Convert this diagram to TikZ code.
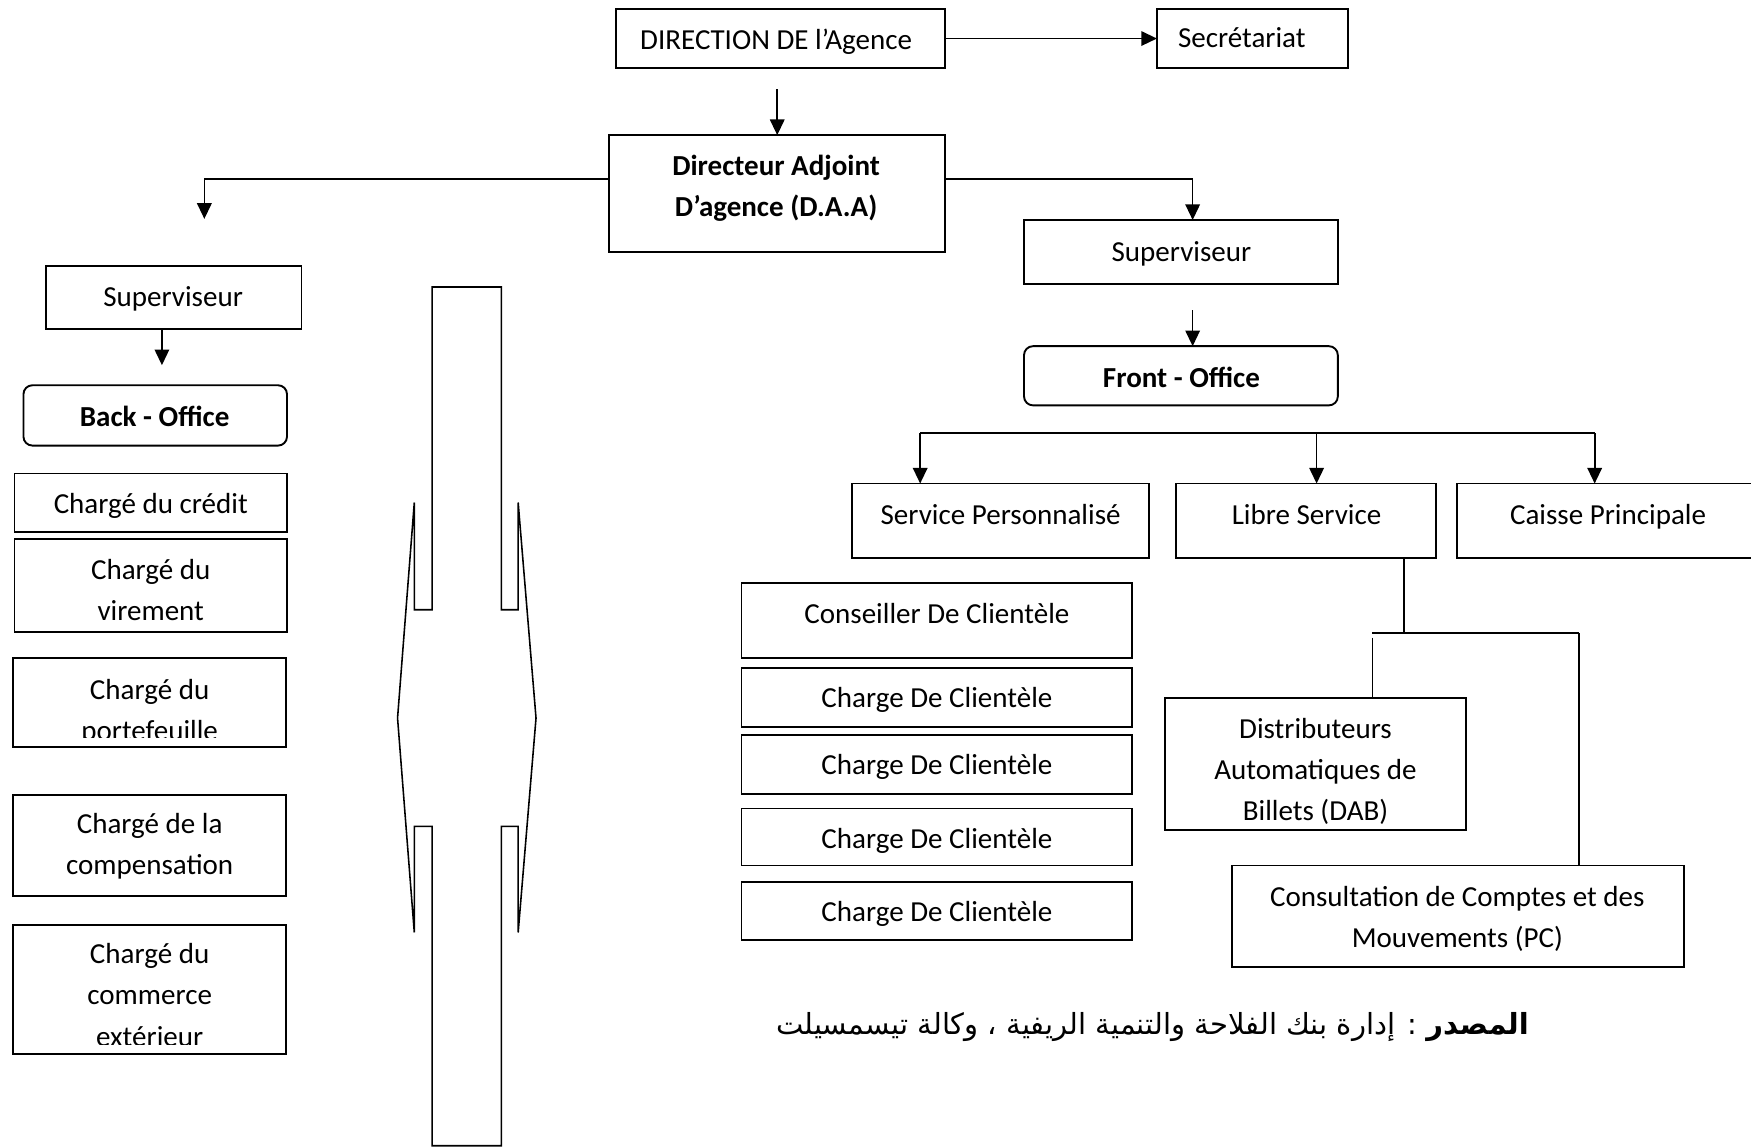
\documentclass[tikz,border=0pt]{standalone}
\usepackage{fontspec}
\usepackage{graphicx}
\setmainfont{Carlito}
\newfontfamily\arabicfont[Script=Arabic]{DejaVu Sans}
\TeXXeTstate=1
\usetikzlibrary{arrows.meta}
\newcommand\ttab[1]{\begin{tabular}{@{}c@{}}#1\end{tabular}}
\newcommand\bx[6][]{\node[box,#1,minimum width={(#5-#3)*1pt},minimum height={(#6-#4)*1pt}] (#2) at ({(#3+#5)/2},{(#4+#6)/2}) {};}
\tikzset{
 box/.style={draw, line width=1.7pt, rectangle, inner sep=0pt, outer sep=0pt},
 rbox/.style={rounded corners=8pt},
 txt/.style={inner sep=0pt, yshift=-1.5pt, font=\fontsize{26}{37}\selectfont},
 btxt/.style={inner sep=0pt, yshift=-1.5pt, font=\fontsize{26}{37}\selectfont\bfseries},
 conn/.style={line width=1.5pt},
 arr/.style={conn, -{Triangle[length=14pt,width=13pt]}},
 dbl/.style={line width=1.4pt, line join=miter}
}
\begin{document}
\begin{tikzpicture}[x=1pt,y=-1pt]
\useasboundingbox (0,0) rectangle (1568,1028);
\clip (0,0) rectangle (1568,1028);
% ---- boxes ----
\bx{dir}{552}{8}{846}{61}
\bx{sec}{1036}{8}{1207}{61}
\bx{daa}{545}{121}{846}{226}
\bx{supR}{917}{197}{1198}{254}
\bx[rbox]{front}{917}{310}{1198}{363}
\bx{sp}{763}{433}{1029}{500}
\bx{ls}{1053}{433}{1286}{500}
\bx{cp}{1305}{433}{1590}{500}
\bx{cons}{664}{522}{1014}{589}
\bx{ch1}{664}{598}{1014}{651}
\bx{ch2}{664}{658}{1014}{711}
\bx{ch3}{664}{724}{1014}{775}
\bx{ch4}{664}{790}{1014}{842}
\bx{dab}{1043}{625}{1313}{743}
\bx{pc}{1103}{775}{1508}{866}
\bx{supL}{41}{238}{270}{295}
\bx[rbox]{back}{21}{345}{257}{399}
\bx{cred}{13}{424}{257}{476}
\bx{vir}{13}{483}{257}{566}
\bx{port}{12}{589}{256}{669}
\bx{comp}{12}{712}{256}{802}
\bx{comm}{12}{828}{256}{944}
% ---- texts ----
\node[txt] (dir-t) at (695,35) {\ttab{DIRECTION DE l’Agence}};
\node[txt] (sec-t) at (1112,34) {\ttab{Secrétariat}};
\node[btxt] (daa-t) at (695,166.5) {\ttab{Directeur Adjoint\\D’agence (D.A.A)}};
\node[txt] (supR-t) at (1058,225) {\ttab{Superviseur}};
\node[btxt] (front-t) at (1058,338.5) {\ttab{Front - Office}};
\node[txt] (sp-t) at (896,461) {\ttab{Service Personnalisé}};
\node[txt] (ls-t) at (1170,461) {\ttab{Libre Service}};
\node[txt] (cp-t) at (1440,461) {\ttab{Caisse Principale}};
\node[txt] (cons-t) at (839,549) {\ttab{Conseiller De Clientèle}};
\node[txt] (ch1-t) at (839,625) {\ttab{Charge De Clientèle}};
\node[txt] (ch2-t) at (839,685) {\ttab{Charge De Clientèle}};
\node[txt] (ch3-t) at (839,751) {\ttab{Charge De Clientèle}};
\node[txt] (ch4-t) at (839,816) {\ttab{Charge De Clientèle}};
\node[txt] (dab-t) at (1178,689) {\ttab{Distributeurs\\Automatiques de\\Billets (DAB)}};
\node[txt] (pc-t) at (1305,821) {\ttab{Consultation de Comptes et des\\Mouvements (PC)}};
\node[txt] (supL-t) at (155,265.5) {\ttab{Superviseur}};
\node[btxt] (back-t) at (138.5,373) {\ttab{Back - Office}};
\node[txt] (cred-t) at (135,451) {\ttab{Chargé du crédit}};
\node[txt] (vir-t) at (135,528.5) {\ttab{Chargé du\\virement}};
\begin{scope}
\clip (port.north west) rectangle ([yshift=9pt]port.south east);
\node[txt] (port-t) at (134,636) {\ttab{Chargé du\\portefeuille}};
\end{scope}
\node[txt] (comp-t) at (134,756) {\ttab{Chargé de la\\compensation}};
\begin{scope}
\clip (comm.north west) rectangle ([yshift=9pt]comm.south east);
\node[txt] (comm-t) at (134,891) {\ttab{Chargé du\\commerce\\extérieur}};
\end{scope}
\node[inner sep=0pt, font=\arabicfont\fontsize{26}{30}\selectfont] (src) at (1032,920)
 {\beginR{\bfseries المصدر} : إدارة بنك الفلاحة والتنمية الريفية ، وكالة تيسمسيلت\endR};
% ---- connectors ----
\draw[arr] (dir.east) -- (sec.west);
\coordinate (a1) at (696,80);
\draw[arr] (a1) -- (a1 |- daa.north);
\coordinate (l1) at (183,196);
\draw[arr] ([yshift=13.5pt]daa.west) -| (l1);
\draw[arr] ([yshift=13.5pt]daa.east) -| ([xshift=10.5pt]supR.north);
\coordinate (a2) at (1068,278);
\draw[arr] (a2) -- (a2 |- front.north);
\coordinate (a3) at (145,327);
\draw[arr] (a3 |- supL.south) -- (a3);
\coordinate (b1) at (824,388);
\coordinate (b3) at (1179,388);
\coordinate (b2) at (1428,388);
\draw[conn] (b1) -- (b2);
\draw[arr] (b1) -- (b1 |- sp.north);
\draw[arr] (b3) -- (b3 |- ls.north);
\draw[arr] (b2) -- (b2 |- cp.north);
\coordinate (c0) at (1257,567);
\coordinate (c1) at (1229,567);
\coordinate (c2) at (1414,567);
\coordinate (c3) at (1229,571);
\draw[conn] (c0 |- ls.south) -- (c0);
\draw[conn] (c1) -- (c2);
\draw[conn] (c3) -- (c3 |- dab.north);
\draw[conn] (c2) -- (c2 |- pc.north);
% ---- double arrow ----
\draw[dbl] (387,1026) -- (387,740) -- (371,740) -- (371,835) -- (356,643) -- (371,450) -- (371,546) -- (387,546) -- (387,257)
 -- (449,257) -- (449,546) -- (464,546) -- (464,450) -- (480,643) -- (464,835) -- (464,740) -- (449,740) -- (449,1026) -- cycle;
\end{tikzpicture}
\end{document}
